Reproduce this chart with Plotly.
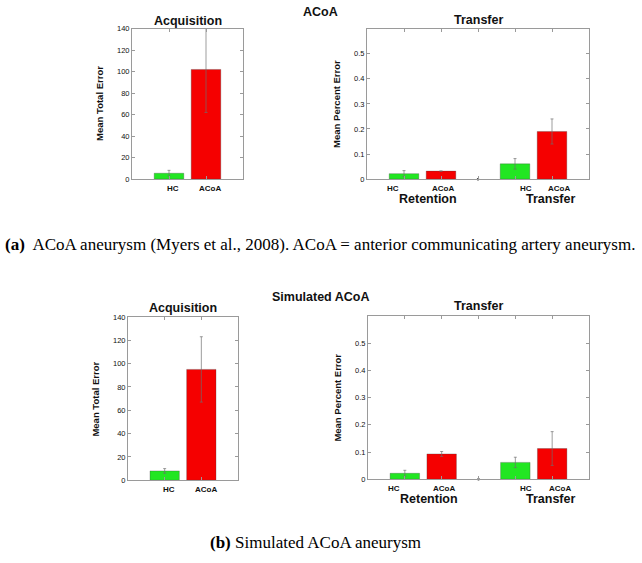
import plotly.graph_objects as go

# ---------------- data ----------------
groups = ["HC", "ACoA"]
phases = ["Retention", "Transfer"]

acq_yticks = [0, 20, 40, 60, 80, 100, 120, 140]
pct_yticks = [0, 0.1, 0.2, 0.3, 0.4, 0.5]

# (a) ACoA aneurysm (Myers et al., 2008)
acq_real_mean = [5.5, 102]
acq_real_err = [2.7, 40]
# order: Retention HC, Retention ACoA, Transfer HC, Transfer ACoA
tr_real_mean = [0.022, 0.032, 0.061, 0.19]
tr_real_err = [0.012, 0.0, 0.021, 0.05]

# (b) Simulated ACoA aneurysm
acq_sim_mean = [8, 95]
acq_sim_err = [2, 28]
tr_sim_mean = [0.022, 0.093, 0.062, 0.113]
tr_sim_err = [0.011, 0.009, 0.019, 0.062]

gap_value = [0]  # empty slot between the two phases

# ---------------- styling ----------------
W, H = 642, 563
GREEN = "#22e622"
RED = "#f50000"
AXC = "#9a9a9a"
ERRC = "rgba(110,110,110,0.85)"
SANS = "Liberation Sans, Arial, Helvetica, sans-serif"
NARROW = "Liberation Sans Narrow, Arial Narrow, Liberation Sans, Arial, sans-serif"
SERIF = "Liberation Serif, Times New Roman, serif"


def fx(px):
    return px / W


def fy(py):
    return 1 - py / H


acq_pos = [i + 1 for i in range(len(groups))]
tr_pos = [p * 3 + g + 1 for p in range(len(phases)) for g in range(len(groups))]
gap_pos = [3]
bar_colors_acq = [GREEN, RED]
bar_colors_tr = [GREEN, RED] * len(phases)

fig = go.Figure()

panels = [
    # (axis suffix, kind, means, errs, x px range, y px range)
    ("", "acq", acq_real_mean, acq_real_err, (132, 243), (25, 178)),
    ("2", "tr", tr_real_mean, tr_real_err, (367, 589), (25, 178)),
    ("3", "acq", acq_sim_mean, acq_sim_err, (128, 238), (318, 484)),
    ("4", "tr", tr_sim_mean, tr_sim_err, (368, 589), (317, 483)),
]

annotations = []

for suf, kind, means, errs, (x0, x1), (y0, y1) in panels:
    xa = "x" + suf
    ya = "y" + suf
    if kind == "acq":
        xs, cols = acq_pos, bar_colors_acq
        xr, yr, yt = [0, 3], [0, 140], acq_yticks
        tickvals = acq_pos
        ytext = [str(v) for v in acq_yticks]
        ytitle = "Mean Total Error"
    else:
        xs, cols = tr_pos, bar_colors_tr
        xr, yr, yt = [0, 6], [0, 0.6], pct_yticks
        tickvals = sorted(tr_pos + gap_pos)
        ytext = ["0" if v == 0 else ("%g" % v) for v in pct_yticks]
        ytitle = "Mean Percent Error"

    fig.add_trace(go.Bar(
        x=xs, y=means, width=0.8,
        marker=dict(color=cols, line=dict(color="rgba(60,60,60,0.6)", width=0.5)),
        error_y=dict(type="data", array=errs, visible=True, color=ERRC,
                     thickness=0.8, width=1.5),
        xaxis=xa, yaxis=ya, showlegend=False, hoverinfo="skip",
    ))
    if kind == "tr":
        fig.add_trace(go.Scatter(
            x=gap_pos, y=gap_value, mode="markers",
            marker=dict(color="#333", size=2.5),
            xaxis=xa, yaxis=ya, showlegend=False, cliponaxis=False,
            hoverinfo="skip",
        ))

    common = dict(showline=True, linecolor=AXC, linewidth=1, mirror="ticks",
                  ticks="inside", ticklen=3, tickcolor=AXC, tickwidth=1,
                  showgrid=False, zeroline=False, fixedrange=True)
    fig.update_layout(**{
        ("xaxis" + suf): dict(domain=[fx(x0), fx(x1)], range=xr, anchor=ya,
                              tickvals=tickvals, showticklabels=False, **common),
        ("yaxis" + suf): dict(domain=[fy(y1), fy(y0)], range=yr, anchor=xa,
                              tickvals=yt, ticktext=ytext,
                              tickfont=dict(family=SANS, size=7.5, color="#111"),
                              **common),
    })

    # y-axis title
    annotations.append(dict(
        text="<b>" + ytitle + "</b>", textangle=-90,
        xref="paper", yref="paper",
        x=fx(x0 - (32 if kind == "acq" else 30)), y=fy((y0 + y1) / 2),
        xanchor="center", yanchor="middle", showarrow=False,
        font=dict(family=NARROW, size=9.5, color="#111"),
    ))

    # category labels below bars
    if kind == "acq":
        label_x = [p + 0.12 for p in acq_pos]
        label_t = groups
    else:
        shift = [-0.3, 0.05, 0.3, 0.2]
        label_x = [p + s for p, s in zip(tr_pos, shift)]
        label_t = groups * len(phases)
        for pi, ph in enumerate(phases):
            center = (tr_pos[pi * 2] + tr_pos[pi * 2 + 1]) / 2 + (0.15 if pi == 0 else 0.45)
            annotations.append(dict(
                text="<b>" + ph + "</b>", xref=xa, yref=ya + " domain",
                x=center, y=0, yshift=-19.5, xanchor="center", yanchor="middle",
                showarrow=False, font=dict(family=SANS, size=12.5, color="#111"),
            ))
    for lx, lt in zip(label_x, label_t):
        annotations.append(dict(
            text="<b>" + lt + "</b>", xref=xa, yref=ya + " domain",
            x=lx, y=0, yshift=-9.5, xanchor="center", yanchor="middle",
            showarrow=False, font=dict(family=SANS, size=8, color="#111"),
        ))

# panel titles
titles = [
    ("ACoA", 320, 8), ("Acquisition", 187.5, 17), ("Transfer", 478, 16),
    ("Simulated ACoA", 320, 298), ("Acquisition", 183, 309), ("Transfer", 478, 307),
]
for t, px, py in titles:
    annotations.append(dict(
        text="<b>" + t + "</b>", xref="paper", yref="paper", x=fx(px), y=fy(py),
        xanchor="center", yanchor="middle", showarrow=False,
        font=dict(family=SANS, size=12.5, color="#111"),
    ))

# captions
annotations.append(dict(
    text="<b>(a)</b>  ACoA aneurysm (Myers et al., 2008). ACoA = anterior communicating artery aneurysm.",
    xref="paper", yref="paper", x=fx(3), y=fy(244), xanchor="left", yanchor="middle",
    showarrow=False, font=dict(family=SERIF, size=17, color="#000"),
))
annotations.append(dict(
    text="<b>(b)</b> Simulated ACoA aneurysm",
    xref="paper", yref="paper", x=fx(208), y=fy(547), xanchor="left", yanchor="middle",
    showarrow=False, font=dict(family=SERIF, size=17, color="#000"),
))

fig.update_layout(
    width=W, height=H, margin=dict(l=0, r=0, t=0, b=0),
    paper_bgcolor="white", plot_bgcolor="white",
    annotations=annotations, bargap=0,
)

fig.write_html(
    "out.html",
    config={"displayModeBar": False, "staticPlot": True},
    post_script="document.body.style.margin='0px';document.body.style.overflow='hidden';",
)
